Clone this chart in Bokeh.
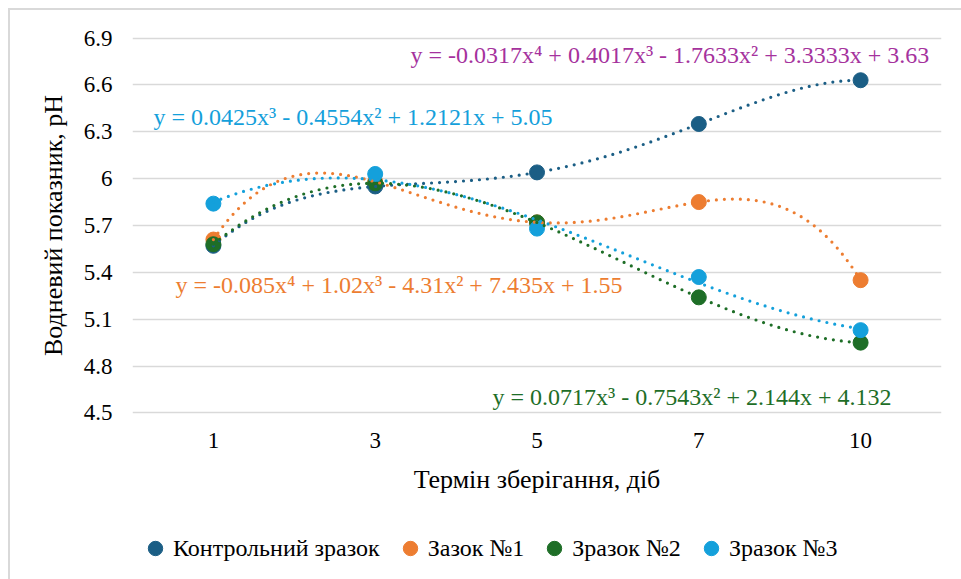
import numpy as np
from bokeh.plotting import figure
from bokeh.layouts import column
from bokeh.models import FixedTicker, Label, Legend, LegendItem, Range1d
from bokeh.embed import file_html
from bokeh.resources import INLINE

# ---- data ----
days = ["1", "3", "5", "7", "10"]
control = [5.57, 5.95, 6.04, 6.35, 6.63]
sample1 = [5.61, 5.98, 5.72, 5.85, 5.35]
sample2 = [5.58, 5.97, 5.72, 5.24, 4.95]
sample3 = [5.84, 6.03, 5.68, 5.37, 5.03]
names = ["Контрольний зразок", "Зазок №1", "Зразок №2", "Зразок №3"]
degrees = [4, 4, 3, 3]
equations = [
    "y = -0.0317x\u2074 + 0.4017x\u00b3 - 1.7633x\u00b2 + 3.3333x + 3.63",
    "y = -0.085x\u2074 + 1.02x\u00b3 - 4.31x\u00b2 + 7.435x + 1.55",
    "y = 0.0717x\u00b3 - 0.7543x\u00b2 + 2.144x + 4.132",
    "y = 0.0425x\u00b3 - 0.4554x\u00b2 + 1.2121x + 5.05",
]
y_ticks = [4.5, 4.8, 5.1, 5.4, 5.7, 6.0, 6.3, 6.6, 6.9]
y_labels = ["4.5", "4.8", "5.1", "5.4", "5.7", "6", "6.3", "6.6", "6.9"]

series = [control, sample1, sample2, sample3]
colors = ["#1B5E85", "#ED7D31", "#1E6E27", "#14A0DB"]
eq_colors = ["#A5329D", "#ED7D31", "#1E6E27", "#14A0DB"]
# label anchor positions (x in category units from left, y in pH units)
eq_pos = [(1.718, 6.79), (0.266, 5.319), (2.225, 4.602), (0.130, 6.394)]

FONT = "'Liberation Serif'"

p = figure(width=951, height=500, output_backend="svg", toolbar_location=None,
           x_range=Range1d(0, len(days)), y_range=Range1d(4.49, 6.91),
           min_border_left=122, min_border_right=20, min_border_top=26,
           min_border_bottom=96)
p.outline_line_color = None
p.background_fill_color = "white"
p.border_fill_color = "white"

xs = [i + 0.5 for i in range(len(days))]
idx = np.arange(1, len(days) + 1)

# x axis
p.xaxis.ticker = FixedTicker(ticks=xs)
p.xaxis.major_label_overrides = {x: d for x, d in zip(xs, days)}
p.xgrid.visible = False
# y axis
p.yaxis.ticker = FixedTicker(ticks=y_ticks)
p.yaxis.major_label_overrides = {t: l for t, l in zip(y_ticks, y_labels)}
p.ygrid.ticker = FixedTicker(ticks=y_ticks)
p.ygrid.grid_line_color = "#D9D9D9"
p.ygrid.grid_line_width = 1.5

for ax in (p.xaxis, p.yaxis):
    ax.axis_line_color = None
    ax.major_tick_line_color = None
    ax.minor_tick_line_color = None
    ax.major_tick_out = 0
    ax.major_tick_in = 0
    ax.major_label_text_font = FONT
    ax.major_label_text_font_size = "23px"
    ax.major_label_text_color = "#000000"
    ax.axis_label_text_font = FONT
    ax.axis_label_text_font_size = "26px"
    ax.axis_label_text_font_style = "normal"
    ax.axis_label_text_color = "#000000"

p.xaxis.axis_label = "Термін зберігання, діб"
p.xaxis.major_label_standoff = 18
p.xaxis.axis_label_standoff = 14
p.yaxis.axis_label = "Водневий показник, pH"
p.yaxis.major_label_standoff = 20
p.yaxis.axis_label_standoff = 13

# markers
for vals, col in zip(series, colors):
    p.scatter(xs, vals, size=15, color=col, marker="circle")

# polynomial trendlines fitted to the data
t = np.linspace(1, len(days), 300)
for vals, col, deg in zip(series, colors, degrees):
    coef = np.polyfit(idx, vals, deg)
    p.line(t - 0.5, np.polyval(coef, t), line_color=col, line_width=3.2,
           line_dash="0 8", line_cap="round")

# equation labels
for eq, col, (ex, ey) in zip(equations, eq_colors, eq_pos):
    p.add_layout(Label(x=ex, y=ey, text=eq, text_color=col, text_font=FONT,
                       text_font_size="24px", text_baseline="middle"))

# legend strip below the chart (its glyphs lie outside its view range)
pl = figure(width=951, height=69, output_backend="svg", toolbar_location=None,
            x_axis_type=None, y_axis_type=None, x_range=Range1d(0, 1),
            y_range=Range1d(0, 1), min_border=0)
pl.outline_line_color = None
pl.grid.visible = False
proxies = [pl.scatter(xs, vals, size=15, color=col, marker="circle")
           for vals, col in zip(series, colors)]
legend = Legend(items=[LegendItem(label=n, renderers=[r]) for n, r in zip(names, proxies)],
                orientation="horizontal", location=(5, 13),
                glyph_width=36, glyph_height=36, label_standoff=0, spacing=12,
                padding=0, margin=0, border_line_color=None,
                background_fill_alpha=0,
                label_text_font="Liberation Serif", label_text_font_size="24px",
                label_text_color="#000000")
pl.add_layout(legend, "center")

layout = column(p, pl, spacing=0,
                styles={"margin-left": "8px", "margin-top": "8px",
                        "border-left": "2px solid #D9D9D9",
                        "border-top": "2px solid #D9D9D9"})

open("out.html", "w").write(file_html(layout, INLINE))
